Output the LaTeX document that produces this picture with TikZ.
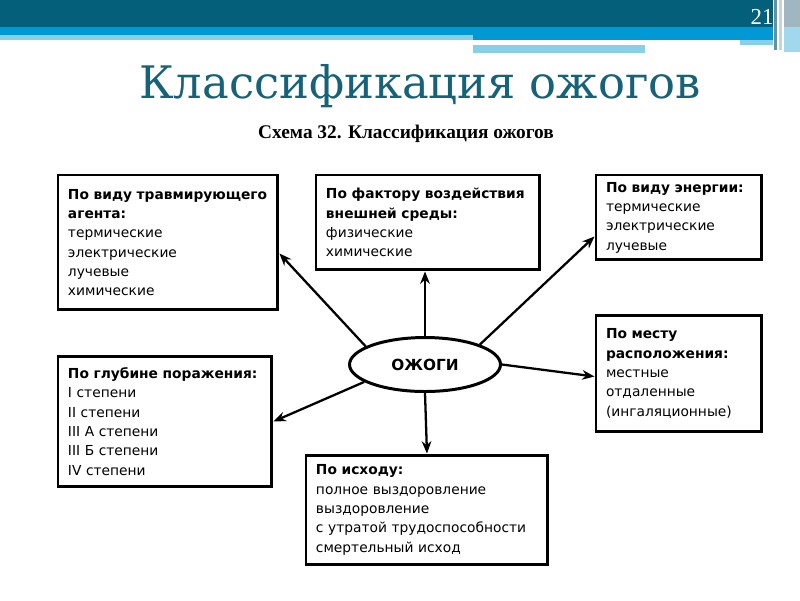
\documentclass[tikz,border=0pt]{standalone}
\usepackage{fontspec}
\setmainfont{DejaVu Sans}
\newfontfamily\titlefont{DejaVu Serif}
\newfontfamily\capfont{Liberation Serif}
\usetikzlibrary{shapes.geometric,arrows.meta}

\definecolor{banddark}{RGB}{4,96,122}
\definecolor{bandblue}{RGB}{0,153,214}
\definecolor{bandlight}{RGB}{138,207,232}
\definecolor{stripmid}{RGB}{94,147,165}
\definecolor{stripgray}{RGB}{160,182,192}
\definecolor{titleteal}{RGB}{22,98,120}

\begin{document}
\begin{tikzpicture}[x=0.02cm,y=-0.02cm,>={Stealth[length=7pt,width=5.5pt]},
  box/.style={draw,line width=1.7pt,anchor=north west,align=left,
    inner xsep=0.2cm,inner ysep=0.1cm,font=\fontsize{7.85}{11}\selectfont},
  link/.style={->,line width=1.3pt}]
\useasboundingbox (0,0) rectangle (800,600);
% slide header
\fill[banddark] (0,0) rectangle (773,27);
\fill[bandblue] (0,27) rectangle (773,35);
\fill[bandblue] (473,35) rectangle (773,40);
\fill[bandlight] (0,35) rectangle (473,40);
\fill[bandlight] (473,45) rectangle (645,53);
\fill[bandlight] (740,40) rectangle (773,45);
\fill[stripmid] (774,0) rectangle (777,50);
\fill[stripgray!60] (779,0) rectangle (782,50);
\fill[stripgray] (784,0) rectangle (800,27);
\fill[bandlight!80] (784,27) rectangle (800,52);
\node[anchor=base,text=white,font=\capfont\fontsize{13}{15}\selectfont] (num) at (762,24) {21};
\node[anchor=base,text=titleteal,font=\titlefont\fontsize{25.5}{30}\selectfont] (title) at (420,98) {Классификация ожогов};
\node[anchor=base,font=\capfont\bfseries\fontsize{11}{13}\selectfont] (caption) at (406,138) {Схема 32. Классификация ожогов};
% scheme
\node[ellipse,draw,line width=1.7pt,minimum width=3.02cm,minimum height=1.08cm,
  font=\bfseries\fontsize{8.7}{10}\selectfont] (burn) at (425,364.5) {ОЖОГИ};
\node[box,text width=4.00cm,minimum height=2.70cm] (agent) at (56.5,173.5)
  {\textbf{По виду травмирующего}\\\textbf{агента:}\\термические\\электрические\\лучевые\\химические};
\node[box,text width=4.08cm,minimum height=1.90cm] (factor) at (314.5,173.5)
  {\textbf{По фактору воздействия}\\\textbf{внешней среды:}\\физические\\химические};
\node[box,text width=2.92cm,minimum height=1.70cm] (energy) at (594.5,173.5)
  {\textbf{По виду энергии:}\\термические\\электрические\\лучевые};
\node[box,text width=3.88cm,minimum height=2.62cm] (depth) at (56.5,354.5)
  {\textbf{По глубине поражения:}\\I степени\\II степени\\III А степени\\III Б степени\\IV степени};
\node[box,text width=2.92cm,minimum height=2.34cm] (place) at (594.5,313.5)
  {\textbf{По месту}\\\textbf{расположения:}\\местные\\отдаленные\\(ингаляционные)};
\node[box,text width=4.44cm,minimum height=2.20cm] (outcome) at (304.5,453.5)
  {\textbf{По исходу:}\\полное выздоровление\\выздоровление\\с утратой трудоспособности\\смертельный исход};
\draw[link] (burn.163) -- ([yshift=-0.22cm]agent.east);
\draw[link] (burn.north) -- (burn.north |- factor.south);
\draw[link] (burn.20) -- ([yshift=-0.38cm]energy.west);
\draw[link] (burn.east) -- ([yshift=-0.06cm]place.west);
\draw[link] (burn.south) -- (outcome.north);
\draw[link] (burn.196) -- (depth.east);
\end{tikzpicture}
\end{document}
